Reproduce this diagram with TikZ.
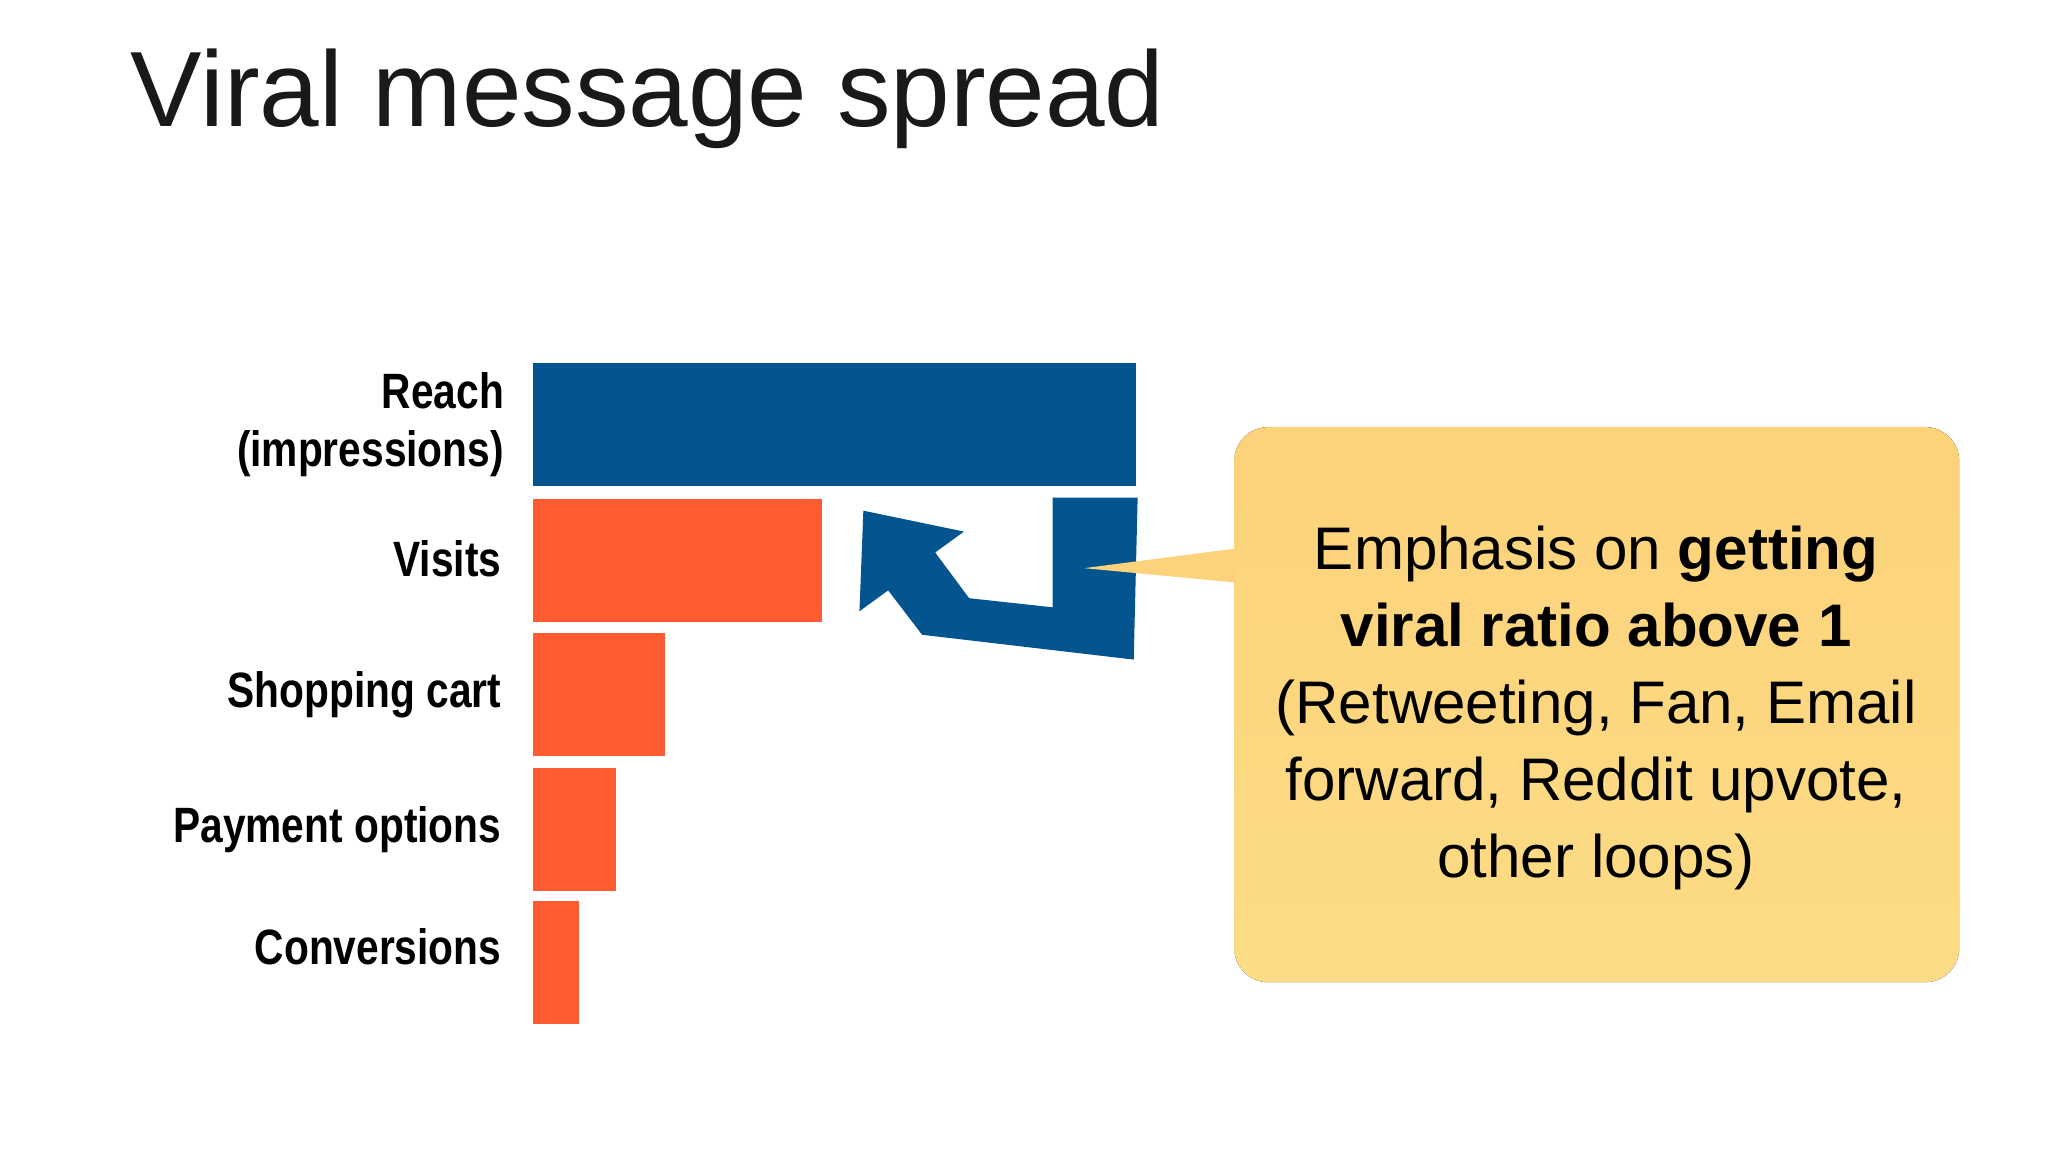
\documentclass[tikz,border=0pt]{standalone}
\usepackage{fontspec}
\setmainfont{Liberation Sans}
\newfontfamily\narrowbold[FakeStretch=0.82]{Liberation Sans}
\definecolor{fblue}{HTML}{03548F}
\definecolor{forange}{HTML}{FF5A30}
\definecolor{ytop}{HTML}{FCD27A}
\definecolor{ybot}{HTML}{FCDC86}
\tikzset{
  bar/.style={fill=forange,draw=none},
  lab/.style={anchor=east,align=right,font=\narrowbold\bfseries\fontsize{38}{44}\selectfont,text=black,inner sep=0pt},
}
\begin{document}
\begin{tikzpicture}[x=1pt,y=-1pt]
\useasboundingbox[fill=white] (0,0) rectangle (1568,882);
\node[anchor=base west,inner sep=0pt,font=\fontsize{82}{90}\selectfont,text=black!90] (title) at (100,97) {Viral message spread};
% bars
\fill[fblue] (408,278) rectangle (870,372);
\fill[bar] (408,382) rectangle (629,476);
\fill[bar] (408,485) rectangle (509,579);
\fill[bar] (408,588) rectangle (472,682);
\fill[bar] (408,690) rectangle (443,784);
% labels
\node[lab] (reach) at (386,325) {Reach\\(impressions)};
\node[lab] (visits) at (384,428) {Visits};
\node[lab] (cart) at (384,532) {Shopping cart};
\node[lab] (pay) at (384,635) {Payment options};
\node[lab] (conv) at (384,725) {Conversions};
% blue arrow
\fill[fblue] (806,381) -- (871,381) -- (868,505) -- (706,486) -- (680,452) -- (658,468) -- (661,391) -- (738,407) -- (716,423) -- (742,458) -- (806,465) -- cycle;
% callout
\fill[top color=ytop,bottom color=ybot,rounded corners=26pt] (945,327) rectangle (1500,752);
\fill[ytop] (946,420) -- (830,435) -- (946,446) -- cycle;
\node[align=center,font=\fontsize{46}{59}\selectfont,text=black,inner sep=0pt] (call) at (1222,542)
 {Emphasis on \textbf{getting}\\\textbf{viral ratio above 1}\\(Retweeting, Fan, Email\\forward, Reddit upvote,\\other loops)};
\end{tikzpicture}
\end{document}
